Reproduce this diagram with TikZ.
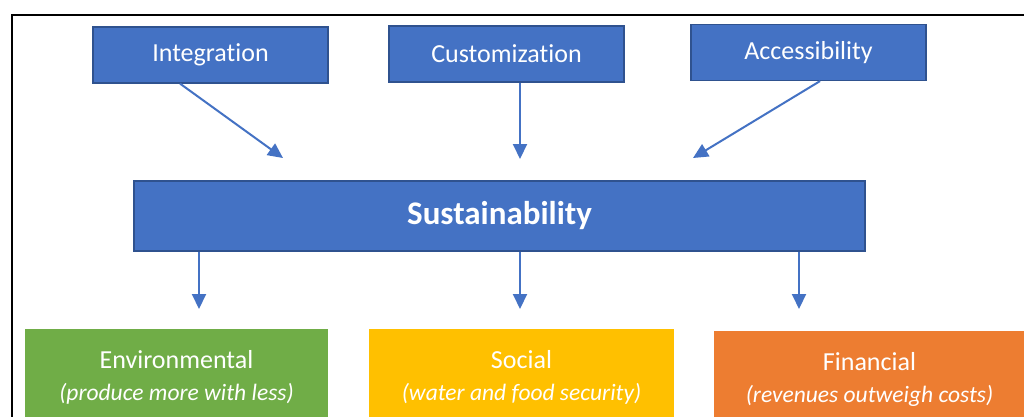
\documentclass[tikz,border=0pt]{standalone}
\usepackage{fontspec}
\setmainfont[Ligatures={NoCommon}]{Carlito}
\usetikzlibrary{arrows.meta,calc}
\definecolor{bblue}{HTML}{4472C4}
\definecolor{bborder}{HTML}{2F528F}
\definecolor{bgreen}{HTML}{70AD47}
\definecolor{byellow}{HTML}{FFC000}
\definecolor{borange}{HTML}{ED7D31}
\newcommand{\subline}[1]{{\fontsize{23.5}{28}\selectfont\itshape #1}}
\tikzset{
  topbox/.style={draw=bborder, line width=1.2pt, fill=bblue, text=white, minimum width=235pt, minimum height=56pt, inner sep=0pt, font=\fontsize{26}{30}\selectfont},
  mainbox/.style={draw=bborder, line width=1.2pt, fill=bblue, text=white, minimum width=731pt, minimum height=70pt, inner sep=0pt, font=\fontsize{33}{38}\selectfont\bfseries},
  pillar/.style={fill=#1, text=white, inner sep=0pt, minimum height=96pt, align=center, font=\fontsize{26}{32}\selectfont},
  conn/.style={draw=bblue, line width=2pt, -{Triangle[length=15pt,width=14pt]}},
}
\begin{document}
\begin{tikzpicture}[x=1pt,y=-1pt]
\clip (0,0) rectangle (1024,416);
\fill[white] (0,0) rectangle (1024,416);
\draw[line width=2pt, black] (11.5,430) -- (11.5,14.5) -- (1040,14.5);

\node[topbox] (int) at (210.5,55) {Integration};
\node[topbox] (cus) at (506.5,54) {Customization};
\node[topbox] (acc) at (808.5,52.5) {Accessibility};
\node[mainbox] (sus) at (499.5,216) {Sustainability};

\node[pillar=bgreen, minimum width=303pt] (env) at (176.5,377) {Environmental\\\subline{(produce more with less)}};
\node[pillar=byellow, minimum width=305pt] (soc) at (521.5,377) {Social\\\subline{(water and food security)}};
\node[pillar=borange, minimum width=311pt] (fin) at (869.5,379) {Financial\\\subline{(revenues outweigh costs)}};

\coordinate (e1) at (283,158);
\coordinate (e2) at (520,159);
\coordinate (e3) at (693,158);
\coordinate (d1) at (199,309);
\coordinate (d2) at (520,309);
\coordinate (d3) at (799,309);

\draw[conn] (int.south -| 180,0) -- (e1);
\draw[conn] (cus.south -| 520,0) -- (e2);
\draw[conn] (acc.south -| 820,0) -- (e3);
\draw[conn] (sus.south -| 199,0) -- (d1);
\draw[conn] (sus.south -| 520,0) -- (d2);
\draw[conn] (sus.south -| 799,0) -- (d3);
\end{tikzpicture}
\end{document}
